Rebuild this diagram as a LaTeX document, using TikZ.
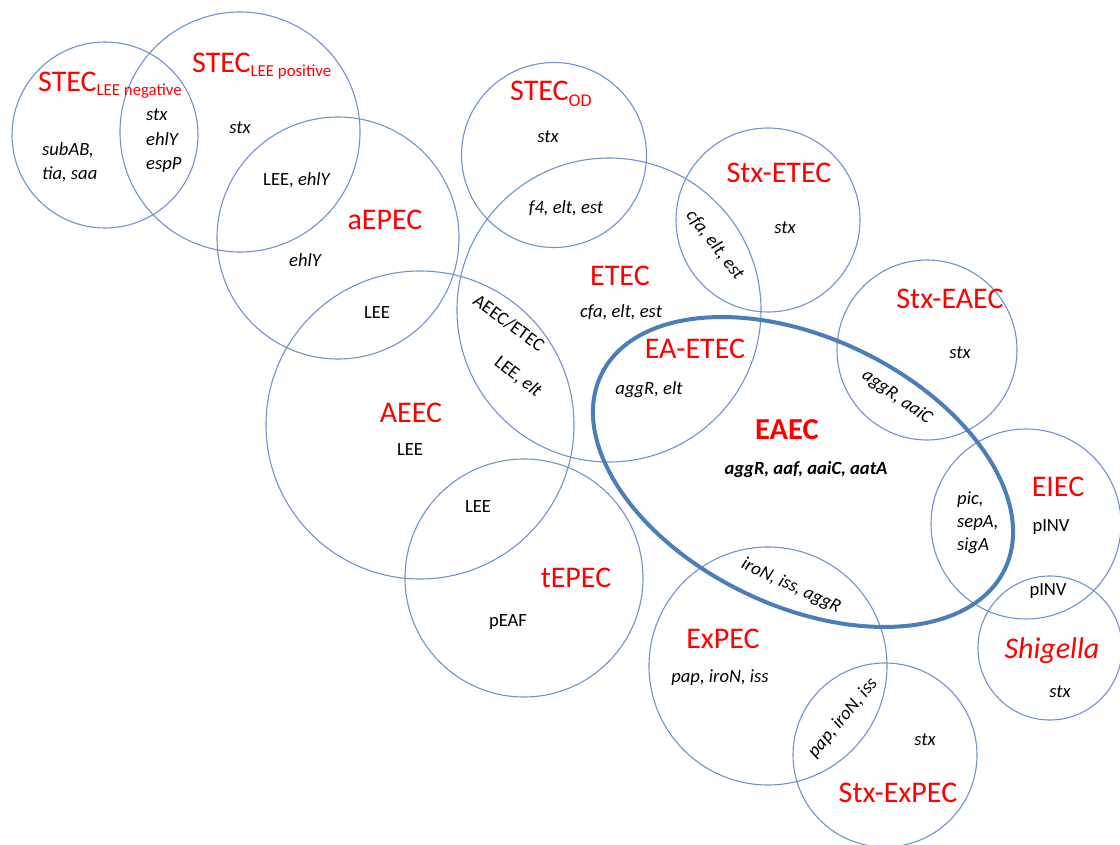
\documentclass[tikz,border=0pt]{standalone}
\usepackage{fontspec}
\setmainfont{Carlito}
\definecolor{ringblue}{HTML}{6F93C8}
\definecolor{eaecblue}{HTML}{4A7EBB}
\newcommand{\mysubfs}{\fontsize{16.8}{17}\selectfont}
\begin{document}
\begin{tikzpicture}[x=1pt,y=-1pt,
  ring/.style={draw=ringblue, line width=1.1pt},
  bigring/.style={draw=eaecblue, line width=4pt},
  big/.style={text=red, font=\fontsize{30}{32}\selectfont, inner sep=0pt},
  gene/.style={font=\fontsize{18.6}{20}\selectfont\itshape, inner sep=0pt},
  plain/.style={font=\fontsize{18.6}{20}\selectfont, inner sep=0pt}]
\useasboundingbox (0,0) rectangle (1120,845);
% circles
\draw[ring] (105,135) circle[radius=93pt];   % STEC LEE negative
\draw[ring] (240,132) circle[radius=120pt];  % STEC LEE positive
\draw[ring] (338,238) circle[radius=121pt];  % aEPEC
\draw[ring] (554,155) circle[radius=92.5pt]; % STEC OD
\draw[ring] (609,310) circle[radius=152pt];  % ETEC
\draw[ring] (768,220) circle[radius=92pt];   % Stx-ETEC
\draw[ring] (420,425) circle[radius=154pt];  % AEEC
\draw[ring] (524,578) circle[radius=119pt];  % tEPEC
\draw[ring] (927,350) circle[radius=90pt];   % Stx-EAEC
\draw[ring] (1026,524) circle[radius=95pt];  % EIEC
\draw[ring] (1050,648) circle[radius=72pt];  % Shigella
\draw[ring] (768,666) circle[radius=119pt];  % ExPEC
\draw[ring] (885,755) circle[radius=92pt];   % Stx-ExPEC
\draw[bigring, rotate around={-25.7:(803,472)}] (803,472) ellipse[x radius=224pt, y radius=134pt]; % EAEC
% labels
\node[big, anchor=base west] (stecneg) at (38,92) {STEC{\mysubfs\raisebox{-4pt}{LEE negative}}};
\node[big, anchor=base west] (stecpos) at (192,73) {STEC{\mysubfs\raisebox{-4pt}{LEE positive}}};
\node[gene, align=left, anchor=north west, font=\fontsize{18.6}{24}\selectfont\itshape] (negg) at (42,142) {subAB,\\tia, saa};
\node[gene, align=left, anchor=north west, font=\fontsize{18.6}{24.5}\selectfont\itshape] (shared) at (146,109) {stx\\ehlY\\espP};
\node[gene] (posstx) at (240,128) {stx};
\node[plain] (leeehly) at (297,180) {LEE, \textit{ehlY}};
\node[big] (aepec) at (385,220) {aEPEC};
\node[gene] (aehly) at (305,260) {ehlY};
\node[big, anchor=base west] (stecod) at (510,101) {STEC{\fontsize{18}{18}\selectfont\raisebox{-6pt}{OD}}};
\node[gene] (odstx) at (548,137) {stx};
\node[gene] (f4) at (566,208) {f4, elt, est};
\node[big] (stxetec) at (779,173) {Stx-ETEC};
\node[gene] (stxetecstx) at (785,228) {stx};
\node[gene, rotate=-52] (cfarot) at (715,245) {cfa, elt, est};
\node[big] (etec) at (620,276) {ETEC};
\node[gene] (etecg) at (621,312) {cfa, elt, est};
\node[plain] (lee1) at (377,313) {LEE};
\node[plain, rotate=-36] (aeecetec) at (509,323) {AEEC/ETEC};
\node[plain, rotate=-38] (leeelt) at (518,377) {LEE, \textit{elt}};
\node[big] (aeec) at (411,413) {AEEC};
\node[plain] (lee2) at (410,450) {LEE};
\node[plain] (lee3) at (478,507) {LEE};
\node[big] (tepec) at (576,578) {tEPEC};
\node[plain] (peaf) at (508,622) {pEAF};
\node[big] (eaetec) at (695,349) {EA-ETEC};
\node[gene] (eaetecg) at (649,390) {aggR, elt};
\node[big, font=\fontsize{30.5}{32}\selectfont\bfseries] (eaec) at (787,430) {EAEC};
\node[gene, font=\fontsize{18.6}{20}\selectfont\bfseries\itshape] (eaecg) at (806,470) {aggR, aaf, aaiC, aatA};
\node[big] (stxeaec) at (950,299) {Stx-EAEC};
\node[gene] (stxeaecstx) at (960,353) {stx};
\node[gene, rotate=-35] (aggaaic) at (897,397) {aggR, aaiC};
\node[big] (eiec) at (1058,487) {EIEC};
\node[gene, align=left, anchor=north west, font=\fontsize{18.6}{23}\selectfont\itshape] (picg) at (957,492) {pic,\\sepA,\\sigA};
\node[plain] (pinv1) at (1051,527) {pINV};
\node[plain] (pinv2) at (1048,591) {pINV};
\node[big, font=\fontsize{30}{32}\selectfont\itshape] (shigella) at (1052,651) {Shigella};
\node[gene] (shigstx) at (1060,692) {stx};
\node[gene, rotate=-25] (ironrot) at (791,586) {iroN, iss, aggR};
\node[big] (expec) at (723,639) {ExPEC};
\node[gene] (expecg) at (720,678) {pap, iroN, iss};
\node[gene, rotate=50] (paprot) at (843,718) {pap, iroN, iss};
\node[gene] (stxexstx) at (925,740) {stx};
\node[big] (stxexpec) at (898,793) {Stx-ExPEC};
\end{tikzpicture}
\end{document}
